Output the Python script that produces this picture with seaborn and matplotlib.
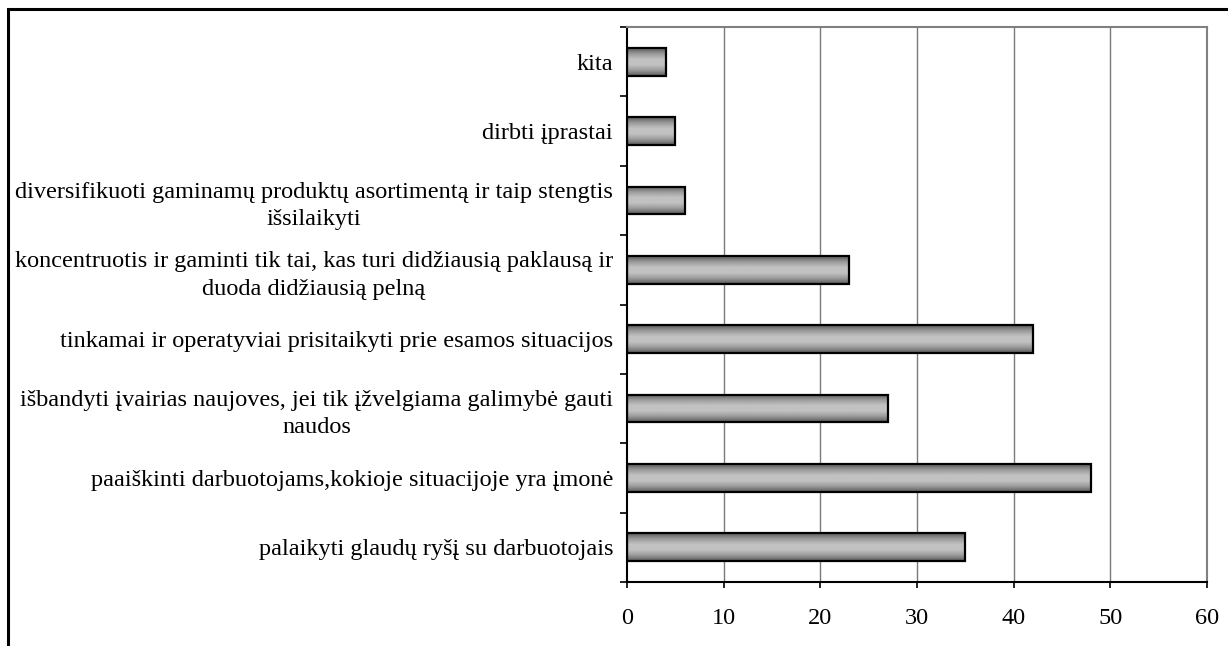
import numpy as np
import pandas as pd
import matplotlib
matplotlib.use("Agg")
import matplotlib.pyplot as plt
from matplotlib.patches import Rectangle
from matplotlib.colors import LinearSegmentedColormap
import seaborn as sns

# Survey answers (top to bottom) and number of respondents
categories = [
    "kita",
    "dirbti įprastai",
    "diversifikuoti gaminamų produktų asortimentą ir taip stengtis\nišsilaikyti",
    "koncentruotis ir gaminti tik tai, kas turi didžiausią paklausą ir\nduoda didžiausią pelną",
    "tinkamai ir operatyviai prisitaikyti prie esamos situacijos",
    "išbandyti įvairias naujoves, jei tik įžvelgiama galimybė gauti\nnaudos",
    "paaiškinti darbuotojams,kokioje situacijoje yra įmonė",
    "palaikyti glaudų ryšį su darbuotojais",
]
values = [4, 5, 6, 23, 42, 27, 48, 35]
x_ticks = [0, 10, 20, 30, 40, 50, 60]

df = pd.DataFrame({"answer": categories, "count": values})

sns.set_theme(style="white")
plt.rcParams["font.family"] = ["Liberation Serif", "DejaVu Serif"]

W, H = 1228, 646
fig = plt.figure(figsize=(W / 100, H / 100), dpi=100)
ax = fig.add_axes([627 / W, 64 / H, 580 / W, 555 / H])

sns.barplot(data=df, x="count", y="answer", orient="h", ax=ax,
            width=0.4, color="#b0b0b0", edgecolor="black", linewidth=1.6,
            zorder=3)

# Cylinder-like grey shading across each bar's height
shade = LinearSegmentedColormap.from_list(
    "shade", ["#5a5a5a", "#999999", "#c2c2c2", "#c2c2c2", "#999999", "#5a5a5a"])
grad = np.linspace(0, 1, 256).reshape(-1, 1)
for bar in ax.patches:
    x0, y0 = bar.get_x(), bar.get_y()
    w, h = bar.get_width(), bar.get_height()
    bar.set_facecolor("none")
    img = ax.imshow(grad, cmap=shade, aspect="auto", interpolation="bicubic",
                    extent=[x0, x0 + w, y0 + h, y0], zorder=2.5)
    img.set_clip_path(bar)

ax.set_xlim(0, 60)
ax.set_ylim(len(categories) - 0.5, -0.5)
ax.set_xticks(x_ticks)
ax.set_xticklabels([str(t) for t in x_ticks])
ax.set_xlabel("")
ax.set_ylabel("")

# Vertical gridlines
ax.grid(False)
for t in x_ticks[1:]:
    ax.axvline(t, color="#7a7a7a", lw=1.0, zorder=1)

# Category labels centred in their rows, ticks on the row boundaries
ax.set_yticks(range(len(categories)))
ax.set_yticklabels(categories, multialignment="center", linespacing=1.4)
ax.set_yticks(np.arange(-0.5, len(categories), 1.0), minor=True)
ax.tick_params(axis="y", which="major", length=0, pad=10, labelsize=17.5,
               labelcolor="black")
ax.tick_params(axis="y", which="minor", left=True, length=5, width=1.2,
               color="black", direction="out")
ax.tick_params(axis="x", which="major", bottom=True, length=4, width=1.2,
               color="black", direction="out", pad=15, labelsize=17.5,
               labelcolor="black")

for side in ("left", "bottom"):
    ax.spines[side].set_color("black")
    ax.spines[side].set_linewidth(1.5)
for side in ("top", "right"):
    ax.spines[side].set_color("#808080")
    ax.spines[side].set_linewidth(1.5)
    ax.spines[side].set_visible(True)

# Outer frame of the chart area
fig.patches.append(Rectangle((8 / W, -0.5), 2.0, 1 - 9 / H + 0.5,
                             transform=fig.transFigure, fill=False,
                             edgecolor="black", lw=2.2, zorder=10))

fig.savefig("out.png", dpi=100, facecolor="white")
